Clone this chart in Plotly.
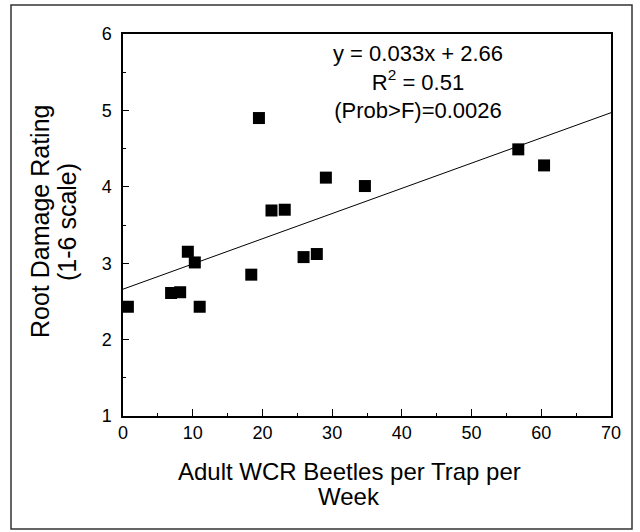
import plotly.graph_objects as go

beetles = [0.7, 6.9, 8.2, 9.3, 10.3, 11.0, 18.4, 19.5, 21.3, 23.2, 25.9, 27.8, 29.1, 34.7, 56.7, 60.4]
damage = [2.43, 2.61, 2.62, 3.15, 3.01, 2.43, 2.85, 4.90, 3.69, 3.70, 3.08, 3.12, 4.12, 4.01, 4.49, 4.28]
slope = 0.033
intercept = 2.66
fit_x = [0, 70]
fit_y = [intercept + slope * v for v in fit_x]
eq_lines = ["y = 0.033x + 2.66", "R<sup>2</sup> = 0.51", "(Prob>F)=0.0026"]
x_title = ["Adult WCR Beetles per Trap per", "Week"]
y_title = ["Root Damage Rating", "(1-6 scale)"]

FONT = "Liberation Sans, Arial, sans-serif"
L, R, T, B = 123, 29, 34, 116
W, H = 640, 532
pw, ph = W - L - R, H - T - B

def px(xp):
    return (xp - L) / pw

def py(yp):
    return (H - B - yp) / ph

fig = go.Figure()
fig.add_trace(go.Scatter(x=fit_x, y=fit_y, mode="lines",
                         line=dict(color="black", width=1), showlegend=False))
fig.add_trace(go.Scatter(x=beetles, y=damage, mode="markers",
                         marker=dict(symbol="square", size=12, color="black"),
                         showlegend=False))

annotations = [dict(x=px(418), y=py(82), xref="paper", yref="paper",
                    text="<br>".join(eq_lines), showarrow=False,
                    xanchor="center", yanchor="middle", align="center",
                    font=dict(family=FONT, size=22, color="black"))]
for i, t in enumerate(x_title):
    annotations.append(dict(x=px(349), y=py(471 + 25 * i), xref="paper", yref="paper",
                            text=t, showarrow=False, xanchor="center", yanchor="middle",
                            font=dict(family=FONT, size=24, color="black")))
for i, t in enumerate(y_title):
    annotations.append(dict(x=px(40 + 27 * i), y=py(222), xref="paper", yref="paper",
                            text=t, showarrow=False, textangle=-90,
                            xanchor="center", yanchor="middle",
                            font=dict(family=FONT, size=25, color="black")))

fig.update_layout(
    width=W, height=H,
    margin=dict(l=L, r=R, t=T, b=B),
    paper_bgcolor="white", plot_bgcolor="white",
    font=dict(family=FONT, color="black"),
    annotations=annotations,
    shapes=[dict(type="rect", xref="paper", yref="paper",
                 x0=px(11), x1=px(632), y0=py(529), y1=py(5),
                 line=dict(color="#333333", width=1.5), layer="below")],
    xaxis=dict(range=[0, 70], tickvals=[0, 10, 20, 30, 40, 50, 60, 70],
               ticks="inside", ticklen=7, tickcolor="black", tickwidth=1,
               showline=True, linecolor="black", linewidth=1.5, mirror=True,
               showgrid=False, zeroline=False,
               tickfont=dict(family=FONT, size=18, color="black"),
               minor=dict(tickvals=[5, 15, 25, 35, 45, 55, 65], ticks="inside",
                          ticklen=3, tickcolor="black")),
    yaxis=dict(range=[1, 6], tickvals=[1, 2, 3, 4, 5, 6],
               ticks="inside", ticklen=6, tickcolor="black", tickwidth=1,
               showline=True, linecolor="black", linewidth=1.5, mirror=True,
               showgrid=False, zeroline=False, ticklabelstandoff=6,
               tickfont=dict(family=FONT, size=18, color="black"),
               minor=dict(tickvals=[1.5, 2.5, 3.5, 4.5, 5.5], ticks="inside",
                          ticklen=3, tickcolor="black")),
)

fig.write_html("out.html", config={"displayModeBar": False},
               post_script="document.body.style.margin='0';document.body.style.overflow='hidden';")
